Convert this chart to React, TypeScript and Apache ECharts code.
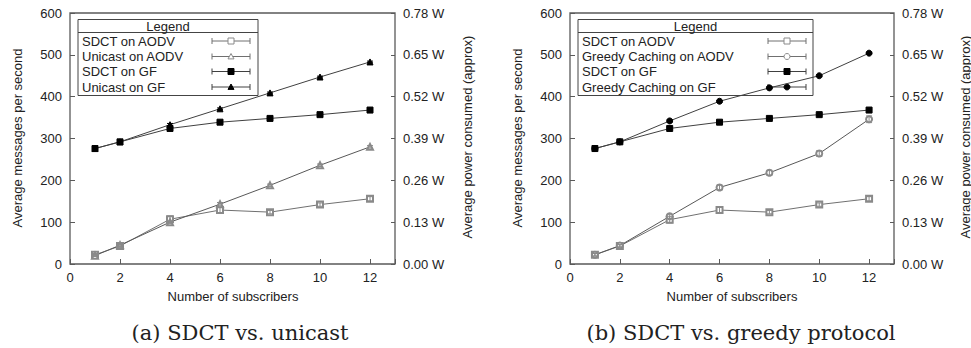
import React, { useEffect, useRef } from 'react';
import * as echarts from 'echarts';

// ---- data ----
const subscribers = [1, 2, 4, 6, 8, 10, 12];
const xTickLabels = ['0', '2', '4', '6', '8', '10', '12'];
const yLeftTicks = [0, 100, 200, 300, 400, 500, 600];
const yRightTickLabels = ['0.00 W', '0.13 W', '0.26 W', '0.39 W', '0.52 W', '0.65 W', '0.78 W'];

const sdctAodv = [22, 43, 107, 129, 124, 142, 156];
const sdctAodvErr = [3, 3, 8, 7, 4, 4, 5];
const unicastAodv = [20, 45, 100, 143, 188, 236, 280];
const unicastAodvErr = [2, 3, 3, 4, 3, 3, 3];
const sdctGf = [276, 292, 324, 339, 348, 357, 368];
const sdctGfErr = [2, 2, 3, 2, 2, 2, 2];
const unicastGf = [276, 292, 333, 371, 409, 447, 483];
const unicastGfErr = [2, 2, 3, 2, 2, 2, 2];

const sdctAodvB = [22, 43, 106, 129, 124, 142, 156];
const sdctAodvBErr = [3, 3, 8, 7, 4, 4, 5];
const greedyAodv = [22, 44, 114, 183, 218, 264, 346];
const greedyAodvErr = [3, 3, 5, 6, 6, 7, 8];
const greedyGf = [276, 292, 342, 389, 421, 450, 504];
const greedyGfErr = [2, 2, 3, 2, 2, 2, 2];

const legendA = ['SDCT on AODV', 'Unicast on AODV', 'SDCT on GF', 'Unicast on GF'];
const legendB = ['SDCT on AODV', 'Greedy Caching on AODV', 'SDCT on GF', 'Greedy Caching on GF'];
const captionA = '(a) SDCT vs. unicast';
const captionB = '(b) SDCT vs. greedy protocol';
const xName = 'Number of subscribers';
const yLeftName = 'Average messages per second';
const yRightName = 'Average power consumed (approx)';

const GRAY = '#8a8a8a';
const GRAY_LINE = '#707070';
const BLACK = '#000';
const DARK_LINE = '#404040';
const AXIS = '#5a5a5a';
const TEXT = '#222';
const SANS = '"Liberation Sans", Arial, sans-serif';

function lineSeries(name: string, xi: number, yi: number, vals: number[], symbol: string, color: string, lineColor: string, size: number) {
  return {
    name,
    type: 'line',
    xAxisIndex: xi,
    yAxisIndex: yi,
    data: subscribers.map((x, i) => [x, vals[i]]),
    symbol,
    symbolSize: size,
    showSymbol: true,
    itemStyle: { color, borderColor: color, borderWidth: 1 },
    lineStyle: { color: lineColor, width: 1 },
    z: 3,
    silent: true,
  };
}

function errSeries(xi: number, yi: number, vals: number[], errs: number[], color: string) {
  return {
    type: 'custom',
    xAxisIndex: xi,
    yAxisIndex: yi,
    z: 4,
    silent: true,
    encode: { x: 0, y: [1, 2] },
    data: subscribers.map((x, i) => [x, vals[i] - errs[i], vals[i] + errs[i]]),
    renderItem: (_params: any, api: any) => {
      const x = api.value(0);
      const p1 = api.coord([x, api.value(1)]);
      const p2 = api.coord([x, api.value(2)]);
      const cw = 3;
      const st = { stroke: color, lineWidth: 1 };
      return {
        type: 'group',
        children: [
          { type: 'line', shape: { x1: p1[0], y1: p1[1], x2: p2[0], y2: p2[1] }, style: st },
          { type: 'line', shape: { x1: p1[0] - cw, y1: p1[1], x2: p1[0] + cw, y2: p1[1] }, style: st },
          { type: 'line', shape: { x1: p2[0] - cw, y1: p2[1], x2: p2[0] + cw, y2: p2[1] }, style: st },
        ],
      };
    },
  };
}

function markerGraphic(kind: string, cx: number, cy: number, color: string) {
  const s = 3;
  if (kind === 'emptyRect' || kind === 'rect') {
    return { type: 'rect', shape: { x: cx - s, y: cy - s, width: 2 * s, height: 2 * s }, style: { fill: kind === 'rect' ? color : '#fff', stroke: color, lineWidth: 1 } };
  }
  if (kind === 'emptyTriangle' || kind === 'triangle') {
    return { type: 'polygon', shape: { points: [[cx, cy - s], [cx + s, cy + s * 0.8], [cx - s, cy + s * 0.8]] }, style: { fill: kind === 'triangle' ? color : '#fff', stroke: color, lineWidth: 1 } };
  }
  return { type: 'circle', shape: { cx, cy, r: s }, style: { fill: kind === 'circle' ? color : '#fff', stroke: color, lineWidth: 1 } };
}

function legendGraphic(x0: number, x1: number, textX: number, sx1: number, sx2: number, names: string[], kinds: string[], colors: string[], lineColors: string[]) {
  const y0 = 19.5, y1 = 95.5;
  const rows = [41, 56.5, 71.5, 87];
  const els: any[] = [
    { type: 'rect', shape: { x: x0, y: y0, width: x1 - x0, height: y1 - y0 }, style: { fill: 'none', stroke: '#444', lineWidth: 1 }, z: 1 },
    { type: 'line', shape: { x1: x0, y1: 32.5, x2: x1, y2: 32.5 }, style: { stroke: '#444', lineWidth: 1 }, z: 1 },
    { type: 'text', x: (x0 + x1) / 2, y: 26.5, style: { text: 'Legend', font: `13px ${SANS}`, fill: TEXT, align: 'center', verticalAlign: 'middle', textAlign: 'center', textVerticalAlign: 'middle' }, z: 1 },
  ];
  names.forEach((n, i) => {
    const y = rows[i];
    els.push({ type: 'text', x: textX, y, style: { text: n, font: `13px ${SANS}`, fill: TEXT, align: 'left', verticalAlign: 'middle', textAlign: 'left', textVerticalAlign: 'middle' }, z: 1 });
    const st = { stroke: lineColors[i], lineWidth: 1 };
    els.push({ type: 'line', shape: { x1: sx1, y1: y, x2: sx2, y2: y }, style: st, z: 1 });
    els.push({ type: 'line', shape: { x1: sx1, y1: y - 3, x2: sx1, y2: y + 3 }, style: st, z: 1 });
    els.push({ type: 'line', shape: { x1: sx2, y1: y - 3, x2: sx2, y2: y + 3 }, style: st, z: 1 });
    els.push({ ...markerGraphic(kinds[i], (sx1 + sx2) / 2, y, colors[i]), z: 2 });
  });
  return els;
}

function textG(text: string, x: number, y: number, font: string, rotate = false) {
  return {
    type: 'text',
    x,
    y,
    rotation: rotate ? Math.PI / 2 : 0,
    style: { text, font, fill: TEXT, align: 'center', verticalAlign: 'middle', textAlign: 'center', textVerticalAlign: 'middle' },
  };
}

function xAxisDef(gi: number) {
  return {
    type: 'value',
    gridIndex: gi,
    min: 0,
    max: 13,
    interval: 2,
    axisLine: { show: false },
    axisTick: { show: true, inside: true, length: 5, lineStyle: { color: AXIS } },
    axisLabel: {
      color: TEXT,
      fontSize: 13,
      fontFamily: SANS,
      margin: 7,
      formatter: (v: number) => (v % 2 === 0 ? xTickLabels[v / 2] : ''),
    },
    splitLine: { show: false },
  };
}

function yAxisDef(gi: number, right: boolean) {
  return {
    type: 'value',
    gridIndex: gi,
    position: right ? 'right' : 'left',
    min: yLeftTicks[0],
    max: yLeftTicks[yLeftTicks.length - 1],
    interval: 100,
    axisLine: { show: false },
    axisTick: { show: true, inside: true, length: right ? 4 : 5, lineStyle: { color: AXIS } },
    axisLabel: {
      color: TEXT,
      fontSize: 13,
      fontFamily: SANS,
      margin: 8,
      formatter: (v: number) => (right ? yRightTickLabels[yLeftTicks.indexOf(v)] : String(v)),
    },
    splitLine: { show: false },
  };
}

export default function App() {
  const ref = useRef<HTMLDivElement>(null);
  useEffect(() => {
    const chart = echarts.init(ref.current!, null, { renderer: 'svg' });
    const gridStyle = { show: true, borderColor: AXIS, borderWidth: 1.3, backgroundColor: 'transparent', containLabel: false };
    const option: any = {
      animation: false,
      backgroundColor: '#fff',
      grid: [
        { ...gridStyle, left: 70, top: 13, width: 325, height: 251 },
        { ...gridStyle, left: 570, top: 13, width: 324, height: 251 },
      ],
      xAxis: [xAxisDef(0), xAxisDef(1)],
      yAxis: [yAxisDef(0, false), yAxisDef(0, true), yAxisDef(1, false), yAxisDef(1, true)],
      series: [
        lineSeries(legendA[0], 0, 0, sdctAodv, 'emptyRect', GRAY, GRAY_LINE, 6),
        lineSeries(legendA[1], 0, 0, unicastAodv, 'emptyTriangle', GRAY, '#585858', 6),
        lineSeries(legendA[2], 0, 0, sdctGf, 'rect', BLACK, DARK_LINE, 6),
        lineSeries(legendA[3], 0, 0, unicastGf, 'triangle', BLACK, DARK_LINE, 6),
        errSeries(0, 0, sdctAodv, sdctAodvErr, GRAY),
        errSeries(0, 0, unicastAodv, unicastAodvErr, GRAY),
        errSeries(0, 0, sdctGf, sdctGfErr, BLACK),
        errSeries(0, 0, unicastGf, unicastGfErr, BLACK),
        lineSeries(legendB[0], 1, 2, sdctAodvB, 'emptyRect', GRAY, GRAY_LINE, 6),
        lineSeries(legendB[1], 1, 2, greedyAodv, 'emptyCircle', GRAY, '#585858', 6),
        lineSeries(legendB[2], 1, 2, sdctGf, 'rect', BLACK, DARK_LINE, 6),
        lineSeries(legendB[3], 1, 2, greedyGf, 'circle', BLACK, DARK_LINE, 6),
        errSeries(1, 2, sdctAodvB, sdctAodvBErr, GRAY),
        errSeries(1, 2, greedyAodv, greedyAodvErr, GRAY),
        errSeries(1, 2, sdctGf, sdctGfErr, BLACK),
        errSeries(1, 2, greedyGf, greedyGfErr, BLACK),
      ],
      graphic: [
        ...legendGraphic(78, 258, 82, 212, 250, legendA, ['emptyRect', 'emptyTriangle', 'rect', 'triangle'], [GRAY, GRAY, BLACK, BLACK], [GRAY_LINE, GRAY_LINE, DARK_LINE, DARK_LINE]),
        ...legendGraphic(578, 813, 582, 768, 806, legendB, ['emptyRect', 'emptyCircle', 'rect', 'circle'], [GRAY, GRAY, BLACK, BLACK], [GRAY_LINE, GRAY_LINE, DARK_LINE, DARK_LINE]),
        textG(xName, 233, 296, `13px ${SANS}`),
        textG(xName, 732, 296, `13px ${SANS}`),
        textG(yLeftName, 17, 138, `13px ${SANS}`, true),
        textG(yRightName, 467, 137, `13px ${SANS}`, true),
        textG(yLeftName, 517, 138, `13px ${SANS}`, true),
        textG(yRightName, 965, 137, `13px ${SANS}`, true),
        textG(captionA, 240, 333, `21px "DejaVu Serif", serif`),
        textG(captionB, 741, 333, `21px "DejaVu Serif", serif`),
      ],
    };
    chart.setOption(option);
    return () => chart.dispose();
  }, []);
  return <div ref={ref} style={{ position: 'absolute', left: 0, top: 0, width: 971, height: 348 }} />;
}
